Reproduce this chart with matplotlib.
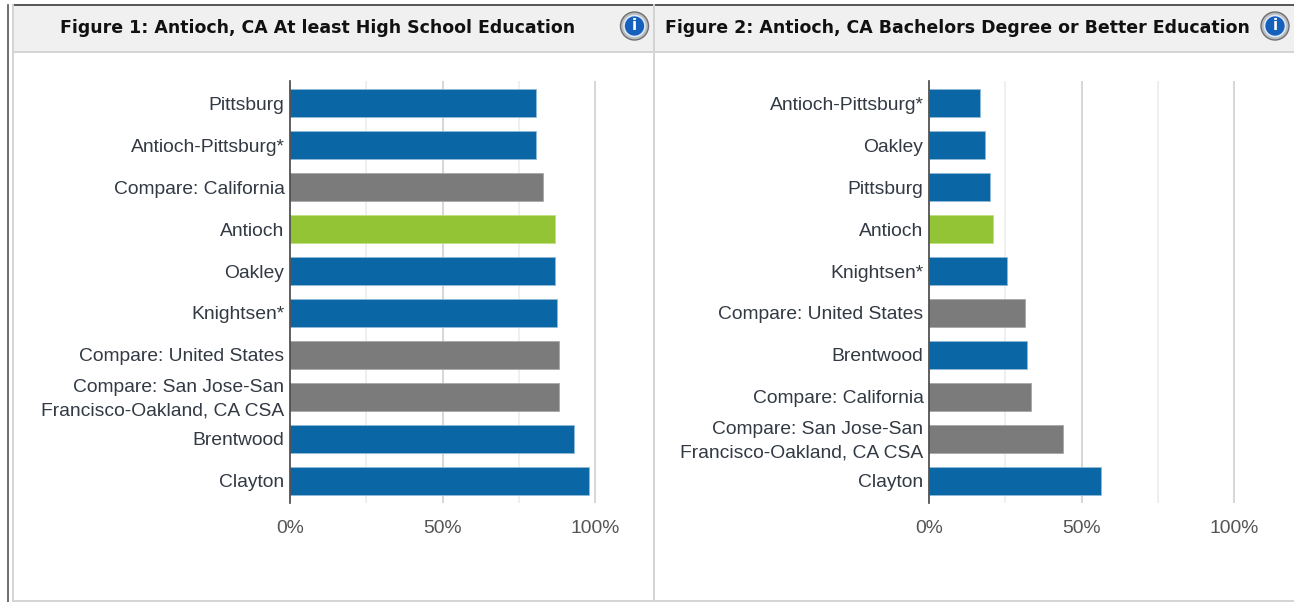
import matplotlib
matplotlib.use("Agg")
import matplotlib.pyplot as plt
from matplotlib.patches import Rectangle, Circle
from matplotlib.lines import Line2D
from matplotlib.transforms import ScaledTranslation

plt.rcParams["font.family"] = "Liberation Sans"

W, H = 1294, 602

titles = ["Figure 1: Antioch, CA At least High School Education",
          "Figure 2: Antioch, CA Bachelors Degree or Better Education"]

labels1 = ["Pittsburg", "Antioch-Pittsburg*", "Compare: California", "Antioch", "Oakley",
           "Knightsen*", "Compare: United States",
           "Compare: San Jose-San\nFrancisco-Oakland, CA CSA", "Brentwood", "Clayton"]
values1 = [80.5, 80.5, 83, 87, 87, 87.5, 88, 88, 93, 98]

labels2 = ["Antioch-Pittsburg*", "Oakley", "Pittsburg", "Antioch", "Knightsen*",
           "Compare: United States", "Brentwood", "Compare: California",
           "Compare: San Jose-San\nFrancisco-Oakland, CA CSA", "Clayton"]
values2 = [16.8, 18.5, 20, 21, 25.5, 31.5, 32, 33.5, 44, 56.5]

BLUE, GREY, GREEN = "#0b66a5", "#7b7b7b", "#92c436"
TXT = "#333a44"


def colour(name):
    if name.startswith("Compare"):
        return GREY
    if name == "Antioch":
        return GREEN
    return BLUE


def halo(name):
    if name.startswith("Compare"):
        return "#a8a8a8"
    if name == "Antioch":
        return "#bfe07f"
    return "#8fbbd8"


fig = plt.figure(figsize=(W / 100, H / 100), dpi=100, facecolor="white")

bg = fig.add_axes([0, 0, 1, 1], zorder=0)
bg.set_xlim(0, W)
bg.set_ylim(H, 0)
bg.axis("off")
bg.add_patch(Rectangle((13, 6), W - 13, 46, fc="#f0f0f0", ec="none"))
for xs, ys, c, lw in [((13, W), (52, 52), "#d4d4d4", 1.4),
                      ((13, W), (4.5, 4.5), "#555555", 1.4),
                      ((7.5, 7.5), (4.5, H), "#555555", 1.2),
                      ((12.5, 12.5), (5, H), "#d4d4d4", 1.4),
                      ((653.5, 653.5), (5, H), "#d4d4d4", 1.4),
                      ((13, W), (601, 601), "#d4d4d4", 1.4)]:
    bg.add_line(Line2D(xs, ys, color=c, lw=lw))

for tx, cx, t in [(317.5, 634.5, titles[0]), (957.5, 1275, titles[1])]:
    bg.text(tx, 28, t, family="DejaVu Sans", weight="bold", fontsize=12.47, color="#111111",
            ha="center", va="center")
    bg.add_patch(Circle((cx, 26), 14, fc="#b9bdc2", ec="#707070", lw=1))
    bg.add_patch(Circle((cx, 26), 10.5, fc="#1560bd", ec="#dfe8f5", lw=1.2))
    bg.text(cx, 26, "i", family="DejaVu Sans", weight="bold", fontsize=11, color="white",
            ha="center", va="center")


def panel(x0, labels, values):
    ax = fig.add_axes([x0 / W, 1 - 503 / H, 305 / W / 0.98, 422 / H], zorder=1)
    ax.patch.set_alpha(0)
    ax.set_xlim(0, 102)
    ax.barh(range(10), values, height=0.67, color=[colour(l) for l in labels],
            edgecolor=[halo(l) for l in labels], linewidth=0.6, zorder=3)
    ax.set_ylim(9.524, -0.524)
    for v, c in [(25, "#ececec"), (50, "#d0d0d0"), (75, "#ececec"), (100, "#d0d0d0")]:
        ax.axvline(v, color=c, lw=1.2, zorder=1)
    for s in ("top", "right", "bottom"):
        ax.spines[s].set_visible(False)
    ax.spines["left"].set_color("#444444")
    ax.spines["left"].set_linewidth(1.2)
    ax.spines["left"].set_zorder(4)
    ax.set_yticks(range(10), labels, fontsize=13.85, color=TXT, linespacing=1.5)
    ax.set_xticks([0, 50, 100], ["0%", "50%", "100%"], fontsize=13.85, color="#555555")
    ax.tick_params(axis="both", length=0)
    ax.tick_params(axis="y", pad=4)
    ax.tick_params(axis="x", pad=12)
    for lab in ax.get_yticklabels():
        if "\n" in lab.get_text():
            lab.set_transform(lab.get_transform() + ScaledTranslation(0, 3 / 100, fig.dpi_scale_trans))
    return ax


panel(290, labels1, values1)
panel(929, labels2, values2)

fig.savefig("out.png", dpi=100)
